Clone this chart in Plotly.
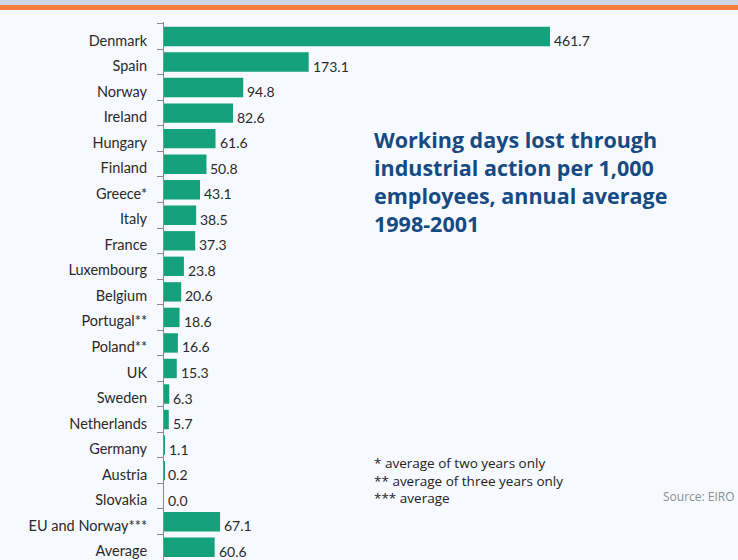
import plotly.graph_objects as go

countries = ["Denmark", "Spain", "Norway", "Ireland", "Hungary", "Finland", "Greece*",
             "Italy", "France", "Luxembourg", "Belgium", "Portugal**", "Poland**", "UK",
             "Sweden", "Netherlands", "Germany", "Austria", "Slovakia",
             "EU and Norway***", "Average"]
values = [461.7, 173.1, 94.8, 82.6, 61.6, 50.8, 43.1, 38.5, 37.3, 23.8, 20.6, 18.6,
          16.6, 15.3, 6.3, 5.7, 1.1, 0.2, 0.0, 67.1, 60.6]
value_labels = [f"{v:.1f}" for v in values]

title_lines = ["Working days lost through", "industrial action per 1,000",
               "employees, annual average", "1998-2001"]
notes = ["* average of two years only", "** average of three years only", "*** average"]
source = "Source: EIRO"

BAR = "#14a17b"
FONT = "Lato"

fig = go.Figure(go.Bar(
    x=values, y=countries, orientation="h",
    marker=dict(color=BAR, line=dict(width=0)),
    width=0.76, hoverinfo="skip",
))

for c, v, t in zip(countries, values, value_labels):
    fig.add_annotation(x=v, y=c, text=t, showarrow=False, xanchor="left",
                       xshift=2, yshift=-4, font=dict(family=FONT, size=14, color="#2a2a2a"))

fig.add_annotation(xref="paper", yref="paper", x=0.3615, y=0.813, xanchor="left", yanchor="top",
                   text="<br>".join(title_lines), showarrow=False, align="left",
                   font=dict(family="Open Sans", size=21.5, color="#164a82", weight="bold"))
fig.add_annotation(xref="paper", yref="paper", x=0.3615, y=0.2015, xanchor="left", yanchor="top",
                   text="<br>".join(notes), showarrow=False, align="left",
                   font=dict(family="Open Sans", size=13.5, color="#222222"))
fig.add_annotation(xref="paper", yref="paper", x=0.998, y=0.118, xanchor="right", yanchor="middle",
                   text=source, showarrow=False,
                   font=dict(family="Open Sans", size=12, color="#8a8f98"))

# header band
fig.add_shape(type="rect", xref="paper", yref="paper", x0=-0.3, x1=1.01,
              y0=(560 - 5) / 538, y1=(560 + 2) / 538, fillcolor="#cfd7e7", line=dict(width=0),
              layer="above")
fig.add_shape(type="rect", xref="paper", yref="paper", x0=-0.3, x1=1.01,
              y0=(560 - 10) / 538, y1=(560 - 5) / 538, fillcolor="#f47f3c", line=dict(width=0),
              layer="above")

fig.update_layout(
    width=738, height=560,
    margin=dict(l=164, r=0, t=22, b=0),
    paper_bgcolor="#f6f9fd", plot_bgcolor="#f6f9fd",
    showlegend=False,
    font=dict(family=FONT, size=14, color="#2a2a2a"),
    xaxis=dict(range=[0, 686.6], visible=False, fixedrange=True),
    yaxis=dict(autorange="reversed", showline=True, linecolor="#8a8a8a", linewidth=1,
               ticks="outside", ticklen=6, tickcolor="#8a8a8a", tickson="boundaries",
               ticklabelshift=-4, ticklabelstandoff=13,
               tickfont=dict(family=FONT, size=14.5, color="#2a2a2a"), fixedrange=True),
)

fig.write_html("out.html")
